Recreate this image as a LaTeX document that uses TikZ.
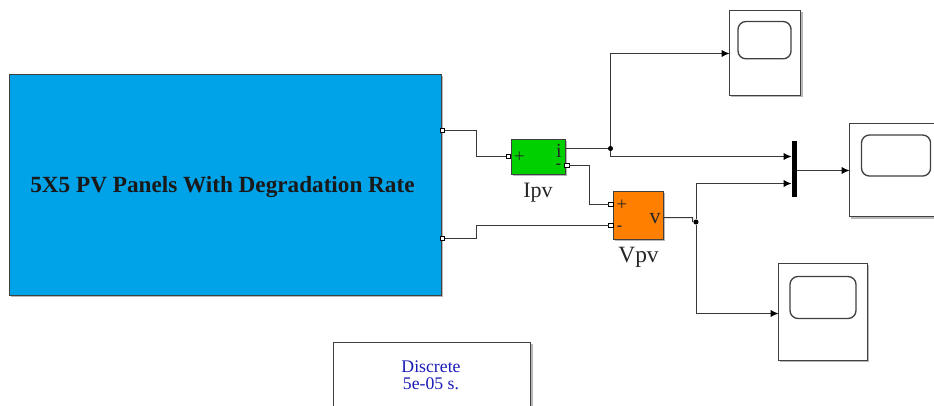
\documentclass[tikz,border=0pt]{standalone}
\usepackage{fontspec}
\setmainfont{Liberation Serif}
\usetikzlibrary{arrows.meta,shadows}
\definecolor{wirec}{HTML}{383838}
\definecolor{mainblue}{HTML}{00A2E8}
\definecolor{igreen}{HTML}{00D000}
\definecolor{vorange}{HTML}{FF8000}
\definecolor{solverblue}{HTML}{1A1AB8}
\tikzset{
  px/.style={x=0.75pt,y=-0.75pt},
  boxshadow/.style={general shadow={shadow xshift=1.3pt,shadow yshift=-1.3pt,fill=black!28}},
  block/.style={draw=black!75,line width=0.8pt,inner sep=0,outer sep=0,boxshadow},
  scopebox/.style={block,fill=white},
  screen/.style={draw=black!75,line width=1pt,fill=white,rounded corners=6pt,inner sep=0,outer sep=0},
  portsq/.style={draw=black,fill=white,line width=0.8pt,minimum size=3.2pt,inner sep=0,outer sep=0},
  junction/.style={circle,fill=black,minimum size=3.8pt,inner sep=0,outer sep=0},
  wire/.style={draw=wirec,line width=0.75pt},
  sig/.style={wire,-{Latex[length=6pt,width=5.5pt,black]}},
  caption/.style={inner sep=0,text=black!85},
  sign/.style={inner sep=0,text=black!85}
}
\begin{document}
\begin{tikzpicture}[px]
\useasboundingbox (0,0) rectangle (934,406);
\clip (0,0) rectangle (934,406);
% blocks
\node[block,fill=mainblue,anchor=north west,minimum width=324pt,minimum height=165.5pt] (main) at (9.2,74.5) {};
\node[inner sep=0,font=\bfseries\fontsize{17.4pt}{19pt}\selectfont,text=black!90] (title) at (222.5,187.5) {5X5 PV Panels With Degradation Rate};
\node[block,fill=igreen,anchor=north west,minimum width=40.5pt,minimum height=26pt] (ipv) at (511.5,139.5) {};
\node[block,fill=vorange,anchor=north west,minimum width=37.3pt,minimum height=35.8pt] (vpv) at (613.5,191.5) {};
\node[caption,font=\fontsize{16.5pt}{18pt}\selectfont] (ipvl) at (538,192.5) {Ipv};
\node[caption,font=\fontsize{17.5pt}{19pt}\selectfont] (vpvl) at (638.5,257) {Vpv};
\node[sign,font=\fontsize{14pt}{15pt}\selectfont] (ip) at (519.5,157.5) {+};
\node[sign,font=\bfseries\fontsize{12pt}{13pt}\selectfont] (in) at (558.5,166.5) {-};
\node[sign,font=\fontsize{15pt}{16pt}\selectfont] (ii) at (559,150.5) {i};
\node[sign,font=\fontsize{14pt}{15pt}\selectfont] (vp) at (622,205) {+};
\node[sign,font=\bfseries\fontsize{12pt}{13pt}\selectfont] (vn) at (619.5,228.5) {-};
\node[sign,font=\fontsize{16.5pt}{17pt}\selectfont] (vv) at (655,219) {v};
% ports
\node[portsq] (p1) at (442.5,130.5) {};
\node[portsq] (p2) at (442.5,238.5) {};
\node[portsq] (p3) at (508.5,156.5) {};
\node[portsq] (p4) at (567,165.5) {};
\node[portsq] (p5) at (611,204.5) {};
\node[portsq] (p6) at (611,225.5) {};
% scopes
\node[scopebox,anchor=north west,minimum width=53.5pt,minimum height=63.8pt] (s1) at (729.5,10.5) {};
\node[screen,anchor=north west,minimum width=39.8pt,minimum height=28pt] (s1s) at (738,21.5) {};
\node[scopebox,anchor=north west,minimum width=75pt,minimum height=70pt] (s2) at (849.5,123.5) {};
\node[screen,anchor=north west,minimum width=51.8pt,minimum height=30.8pt] (s2s) at (861.5,135) {};
\node[scopebox,anchor=north west,minimum width=66.5pt,minimum height=72.8pt] (s3) at (778.5,263.5) {};
\node[screen,anchor=north west,minimum width=49.5pt,minimum height=31.5pt] (s3s) at (790,276.5) {};
% mux
\node[fill=black,anchor=north west,minimum width=3.8pt,minimum height=41.6pt,inner sep=0,outer sep=0] (mux) at (791.5,141.5) {};
% solver
\node[scopebox,anchor=north west,minimum width=148pt,minimum height=60pt] (solver) at (333.5,342.5) {};
\node[inner sep=0,text=solverblue,align=center,font=\fontsize{13.3pt}{12.8pt}\selectfont] (solvert) at (431,375) {Discrete\\5e-05 s.};
% junctions
\node[junction] (j1) at (610.5,148.5) {};
\node[junction] (j2) at (696,222) {};
% waypoints
\coordinate (a1) at (476.5,130.5);
\coordinate (a2) at (476.5,156.5);
\coordinate (b1) at (476.5,238.5);
\coordinate (b2) at (476.5,225.5);
\coordinate (c1) at (589.5,165.5);
\coordinate (c2) at (589.5,204.5);
\coordinate (i0) at (565,148.5);
\coordinate (up1) at (610.5,53.5);
\coordinate (dn1) at (610.5,156.5);
\coordinate (m1) at (791.5,156.5);
\coordinate (m2) at (791.5,183.5);
\coordinate (v0) at (663,217.5);
\coordinate (v1) at (692.5,217.5);
\coordinate (v2) at (692.5,221.5);
\coordinate (up2) at (696,183.5);
\coordinate (dn2) at (696,313.5);
\coordinate (m3) at (796.5,170.5);
% wires
\draw[wire] (p1) -- (a1) -- (a2) -- (p3);
\draw[wire] (p2) -- (b1) -- (b2) -- (p6);
\draw[wire] (p4) -- (c1) -- (c2) -- (p5);
\draw[wire] (i0) -- (j1);
\draw[sig] (j1) -- (up1) -- (s1.west |- up1);
\draw[sig] (j1) -- (dn1) -- (m1);
\draw[wire] (v0) -- (v1) -- (v2) -- (j2);
\draw[sig] (j2) -- (up2) -- (m2);
\draw[sig] (j2) -- (dn2) -- (s3.west |- dn2);
\draw[sig] (m3) -- (s2.west |- m3);
\end{tikzpicture}
\end{document}
